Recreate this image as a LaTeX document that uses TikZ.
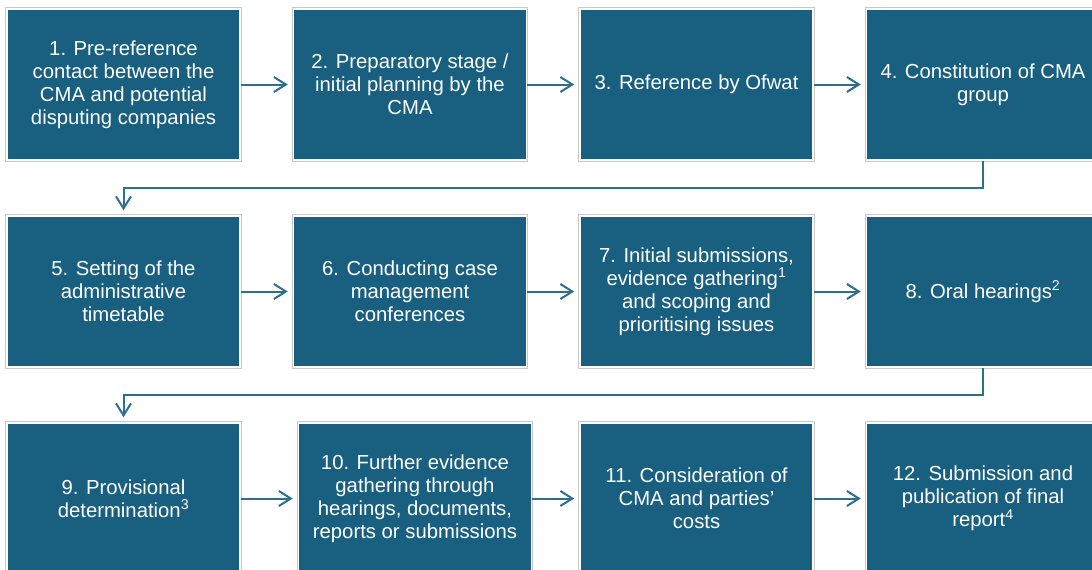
\documentclass[tikz,border=0pt]{standalone}
\usepackage{fontspec}
\setmainfont{Liberation Sans}
\usetikzlibrary{arrows.meta}

\definecolor{stagefill}{RGB}{24,95,128}
\definecolor{flowline}{RGB}{46,110,142}
\definecolor{edgegray}{RGB}{200,200,200}

\tikzset{
  stage/.style={rectangle, fill=stagefill, draw=white, line width=1.5pt,
    preaction={draw=edgegray, line width=3.5pt},
    minimum width=233pt, minimum height=151pt, inner sep=0pt,
    text=white, align=center,
    font=\fontsize{20.3}{23}\selectfont},
  flow/.style={draw=flowline, line width=2pt,
    -{Straight Barb[length=12pt,width=15pt,line width=2pt]}},
}

\begin{document}
\begin{tikzpicture}[x=1pt, y=-1pt]
  % page area
  \useasboundingbox (0,0) rectangle (1092,570);
  \clip (0,0) rectangle (1092,570);

  % first row
  \node[stage] (s1) at (123.5,84.5) {1. Pre-reference\\contact between the\\CMA and potential\\disputing companies};
  \node[stage] (s2) at (410,84.5) {2. Preparatory stage /\\initial planning by the\\CMA};
  \node[stage] (s3) at (696.5,84.5) {3. Reference by Ofwat};
  \node[stage] (s4) at (983,84.5) {4. Constitution of CMA\\group};

  % second row
  \node[stage] (s5) at (123.5,291.5) {5. Setting of the\\administrative\\timetable};
  \node[stage] (s6) at (410,291.5) {6. Conducting case\\management\\conferences};
  \node[stage] (s7) at (696.5,291.5) {7. Initial submissions,\\evidence gathering\textsuperscript{1}\\and scoping and\\prioritising issues};
  \node[stage] (s8) at (983,291.5) {8. Oral hearings\textsuperscript{2}};

  % third row
  \node[stage] (s9) at (123.5,498.5) {9. Provisional\\determination\textsuperscript{3}};
  \node[stage] (s10) at (415,498.5) {10. Further evidence\\gathering through\\hearings, documents,\\reports or submissions};
  \node[stage] (s11) at (696.5,498.5) {11. Consideration of\\CMA and parties’\\costs};
  \node[stage] (s12) at (983,498.5) {12. Submission and\\publication of final\\report\textsuperscript{4}};

  % arrows along each row
  \foreach \a/\b in {s1/s2, s2/s3, s3/s4, s5/s6, s6/s7, s7/s8, s9/s10, s10/s11, s11/s12}
    \draw[flow, shorten >=5pt] (\a.east) -- (\b.west);

  % wrap from the end of one row to the start of the next
  \draw[flow, shorten >=5pt] (s4.south) -- ++(0,27) -| (s5.north);
  \draw[flow, shorten >=5pt] (s8.south) -- ++(0,27) -| (s9.north);
\end{tikzpicture}
\end{document}
